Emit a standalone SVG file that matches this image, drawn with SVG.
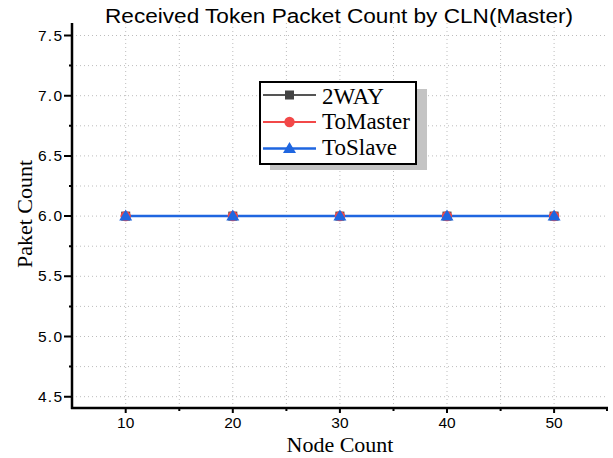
<svg xmlns="http://www.w3.org/2000/svg" width="613" height="458" viewBox="0 0 613 458">
  <style>
    .grid { stroke: #bdbdbd; stroke-width: 1; stroke-dasharray: 1 3; fill: none; }
    .axis { stroke: #000; stroke-width: 2.5; fill: none; }
    .tick { stroke: #000; stroke-width: 2; }
    .tlab { font-family: "Liberation Sans", Arial, sans-serif; font-size: 15.5px; fill: #000; }
    .title { font-family: "Liberation Sans", Arial, sans-serif; font-size: 20px; fill: #000; }
    .alab { font-family: "Liberation Serif", "Times New Roman", serif; font-size: 22px; fill: #000; }
    .leg { font-family: "Liberation Serif", "Times New Roman", serif; font-size: 23px; fill: #000; }
    .s-2way { stroke: #555; stroke-width: 2; fill: none; }
    .s-master { stroke: #f24848; stroke-width: 2; fill: none; }
    .s-slave { stroke: #1f66e0; stroke-width: 2.5; fill: none; }
  </style>
  <defs>
    <rect id="sq" x="-4.5" y="-4.5" width="9" height="9" fill="#444"/>
    <circle id="ci" r="5.2" fill="#f24848"/>
    <polygon id="tri" points="0,-6 6.5,5 -6.5,5" fill="#1f66e0"/>
  </defs>

  <rect width="613" height="458" fill="#fff"/>

  <text class="title" x="339" y="23" text-anchor="middle" textLength="468" lengthAdjust="spacingAndGlyphs">Received Token Packet Count by CLN(Master)</text>

  <!-- dotted grid -->
  <g id="grid">
    <path class="grid" d="M72 35.5H608 M72 65.6H608 M72 95.7H608 M72 125.8H608 M72 155.9H608 M72 186H608 M72 216.1H608 M72 246.2H608 M72 276.3H608 M72 306.4H608 M72 336.5H608 M72 366.6H608 M72 396.7H608"/>
    <path class="grid" d="M125.7 23V408 M179.3 23V408 M232.8 23V408 M286.4 23V408 M339.9 23V408 M393.5 23V408 M447 23V408 M500.6 23V408 M554.1 23V408"/>
  </g>

  <!-- axes -->
  <g id="axes">
    <path class="axis" d="M72 23V409 M71 408H608"/>
    <path class="tick" d="M64 35.5H72 M64 95.7H72 M64 155.9H72 M64 216.1H72 M64 276.3H72 M64 336.5H72 M64 396.7H72"/>
    <path class="tick" d="M69 65.6H72 M69 125.8H72 M69 186H72 M69 246.2H72 M69 306.4H72 M69 366.6H72"/>
    <path class="tick" d="M125.7 408V413 M232.8 408V413 M339.9 408V413 M447 408V413 M554.1 408V413"/>
    <path class="tick" d="M179.3 408V411 M286.4 408V411 M393.5 408V411 M500.6 408V411 M607 408V411"/>
    <g class="tlab" text-anchor="end">
      <text x="62" y="40.5" textLength="24">7.5</text>
      <text x="62" y="100.7" textLength="24">7.0</text>
      <text x="62" y="160.9" textLength="24">6.5</text>
      <text x="62" y="221.1" textLength="24">6.0</text>
      <text x="62" y="281.3" textLength="24">5.5</text>
      <text x="62" y="341.5" textLength="24">5.0</text>
      <text x="62" y="401.7" textLength="24">4.5</text>
    </g>
    <g class="tlab" text-anchor="middle">
      <text x="125.7" y="428">10</text>
      <text x="232.8" y="428">20</text>
      <text x="339.9" y="428">30</text>
      <text x="447" y="428">40</text>
      <text x="554.1" y="428">50</text>
    </g>
    <text class="alab" x="340" y="452" text-anchor="middle">Node Count</text>
    <text class="alab" transform="translate(32 214) rotate(-90)" text-anchor="middle">Paket Count</text>
  </g>

  <!-- data series (all three overlap at 6.0) -->
  <g id="connectors">
    <path class="s-2way" d="M125.7 216.1H554.1"/>
    <path class="s-master" d="M125.7 216.1H554.1"/>
    <path class="s-slave" d="M125.7 216.1H554.1"/>
  </g>
  <g id="series-2way">
    <use href="#sq" x="125.7" y="216.1"/><use href="#sq" x="232.8" y="216.1"/><use href="#sq" x="339.9" y="216.1"/><use href="#sq" x="447" y="216.1"/><use href="#sq" x="554.1" y="216.1"/>
  </g>
  <g id="series-tomaster">
    <use href="#ci" x="125.7" y="216.1"/><use href="#ci" x="232.8" y="216.1"/><use href="#ci" x="339.9" y="216.1"/><use href="#ci" x="447" y="216.1"/><use href="#ci" x="554.1" y="216.1"/>
  </g>
  <g id="series-toslave">
    <use href="#tri" x="125.7" y="215.6"/><use href="#tri" x="232.8" y="215.6"/><use href="#tri" x="339.9" y="215.6"/><use href="#tri" x="447" y="215.6"/><use href="#tri" x="554.1" y="215.6"/>
  </g>

  <!-- legend -->
  <g id="legend">
    <rect x="270" y="89" width="157" height="81" fill="#c4c4c4"/>
    <rect x="260" y="82" width="156" height="82" fill="#fff" stroke="#000" stroke-width="2"/>
    <path class="s-2way" d="M263 95H316"/>
    <use href="#sq" x="289.5" y="95"/>
    <path class="s-master" d="M263 122H316"/>
    <use href="#ci" x="289.5" y="122"/>
    <path class="s-slave" d="M263 148.5H316"/>
    <use href="#tri" x="289.5" y="148"/>
    <text class="leg" x="322" y="103.5">2WAY</text>
    <text class="leg" x="322" y="128.5">ToMaster</text>
    <text class="leg" x="322" y="154.5">ToSlave</text>
  </g>
</svg>
